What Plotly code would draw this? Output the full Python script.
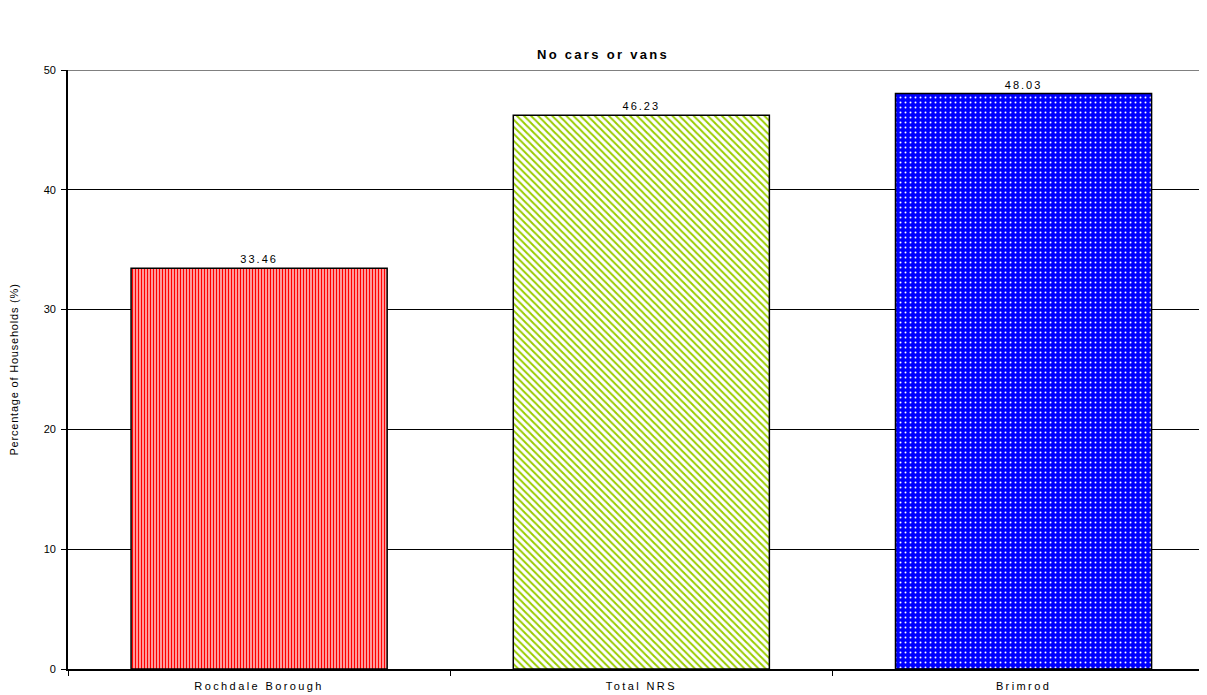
import plotly.graph_objects as go

areas = ["Rochdale Borough", "Total NRS", "Brimrod"]
no_car_pct = [33.46, 46.23, 48.03]

BAR_BG = ["#FFFFFF", "#FFFFFF", "#0000FF"]
PAT_FG = ["#FF0000", "#99CC00", "#FFFFFF"]
PAT_SHAPE = ["|", "\\", "."]
PAT_SIZE = [3, 5, 5]
PAT_SOLID = [0.6, 0.4, 0.12]

FONT = "Liberation Sans, Arial"


def spaced(s, px=2):
    return f'<span style="letter-spacing:{px}px">{s}</span>'


fig = go.Figure()
# one trace per bar so each gets its own fill pattern
for i, (area, val) in enumerate(zip(areas, no_car_pct)):
    fig.add_trace(go.Bar(
        x=[area],
        y=[val],
        width=0.67,
        marker=dict(
            color=BAR_BG[i],
            line=dict(color="#000000", width=1.5),
            pattern=dict(shape=PAT_SHAPE[i], fgcolor=PAT_FG[i], bgcolor=BAR_BG[i],
                         size=PAT_SIZE[i], solidity=PAT_SOLID[i], fillmode="replace"),
        ),
        text=[spaced(f"{val:.2f}", 2)],
        textposition="outside",
        textfont=dict(family=FONT, size=11, color="#000000"),
        cliponaxis=False,
    ))

# page has an 8px body margin, so the figure is a bit smaller than the window
fig.update_layout(
    width=1199,
    height=687,
    barmode="overlay",
    paper_bgcolor="#FFFFFF",
    plot_bgcolor="#FFFFFF",
    margin=dict(l=60, r=0, t=62, b=26),
    showlegend=False,
    title=dict(
        text="<b>" + spaced("No cars or vans", 2.3) + "</b>",
        x=(603 - 8) / 1199, xanchor="center",
        y=1 - 46 / 687, yanchor="middle",
        font=dict(family=FONT, size=13, color="#000000"),
    ),
    font=dict(family=FONT, size=11, color="#000000"),
)

# grey frame line along the top of the plot area
fig.add_shape(type="line", xref="paper", yref="y", x0=0, x1=1, y0=50, y1=50,
              line=dict(color="#808080", width=2), layer="below")

fig.update_xaxes(
    range=[-0.5, 2.48],
    categoryorder="array",
    categoryarray=areas,
    tickmode="array",
    tickvals=areas,
    ticktext=[spaced(a, 2.4) for a in areas],
    tickson="boundaries",
    ticks="outside",
    ticklen=5,
    tickcolor="#000000",
    ticklabelstandoff=6,
    showline=True,
    linecolor="#000000",
    linewidth=1.5,
    showgrid=False,
    tickfont=dict(size=11),
    automargin=False,
)

fig.update_yaxes(
    range=[0, 50],
    dtick=10,
    ticks="outside",
    ticklen=5,
    tickcolor="#000000",
    showline=True,
    linecolor="#000000",
    linewidth=1.5,
    showgrid=True,
    gridcolor="#000000",
    gridwidth=1,
    zeroline=False,
    title=dict(text=spaced("Percentage of Households (%)", 0.8), standoff=24, font=dict(size=11)),
    tickfont=dict(size=11),
    tickformat="d",
    ticksuffix=" ",
    automargin=False,
)

fig.write_html("out.html")
